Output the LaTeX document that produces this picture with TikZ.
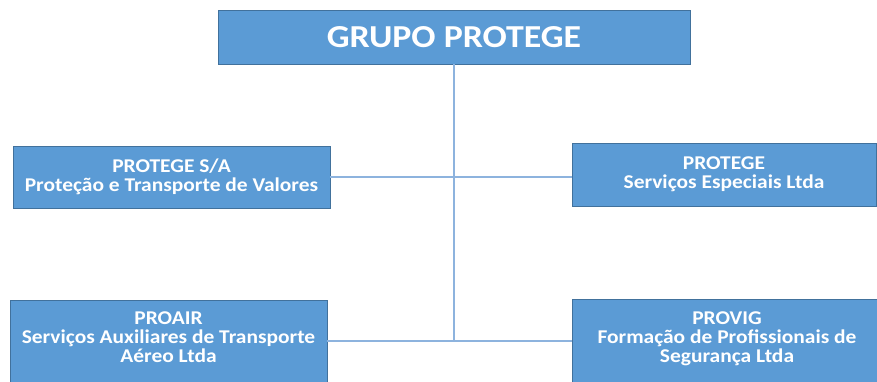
\documentclass[tikz,border=0pt]{standalone}
\usepackage{fontspec}
\setmainfont{Carlito}
\newfontfamily\unitfont[FakeStretch=1.1]{Carlito}
\newfontfamily\headfont[FakeStretch=1.12]{Carlito}
\definecolor{boxblue}{HTML}{5B9BD5}
\definecolor{boxedge}{HTML}{41719C}
\definecolor{linkblue}{HTML}{8DB3DE}

\begin{document}
\begin{tikzpicture}[x=1pt, y=-1pt,
    unit/.style={draw=boxedge, fill=boxblue, text=white, line width=0.8pt,
      font=\unitfont\bfseries\fontsize{19.5}{19}\selectfont, align=center, inner sep=0pt},
    link/.style={linkblue, line width=1.3pt}]
    \useasboundingbox (0,0) rectangle (877,381);
    \clip (0,0) rectangle (877,381);

    \node[unit, minimum width=472pt, minimum height=54pt,
      font=\headfont\bfseries\fontsize{32}{36}\selectfont] (grupo) at (454,37) {GRUPO PROTEGE};

    \node[unit, minimum width=317pt, minimum height=62pt] (protsa) at (171.5,177) {PROTEGE S/A\\Proteção e Transporte de Valores};
    \node[unit, minimum width=304pt, minimum height=63pt] (protse) at (724,174.5) {PROTEGE\\Serviços Especiais Ltda};
    \node[unit, minimum width=317pt, minimum height=82pt, text depth=7pt] (proair) at (168.5,341) {PROAIR\\Serviços Auxiliares de Transporte\\Aéreo Ltda};
    \node[unit, minimum width=310pt, minimum height=84pt, text depth=7pt] (provig) at (727,341) {PROVIG\\Formação de Profissionais de\\Segurança Ltda};

    % tree links
    \coordinate (hub) at (grupo.south |- proair.east);
    \draw[link] (grupo.south) -- (hub);
    \draw[link] (protsa.east) -- (protsa.east -| protse.west);
    \draw[link] (proair.east) -- (proair.east -| provig.west);

\end{tikzpicture}
\end{document}
